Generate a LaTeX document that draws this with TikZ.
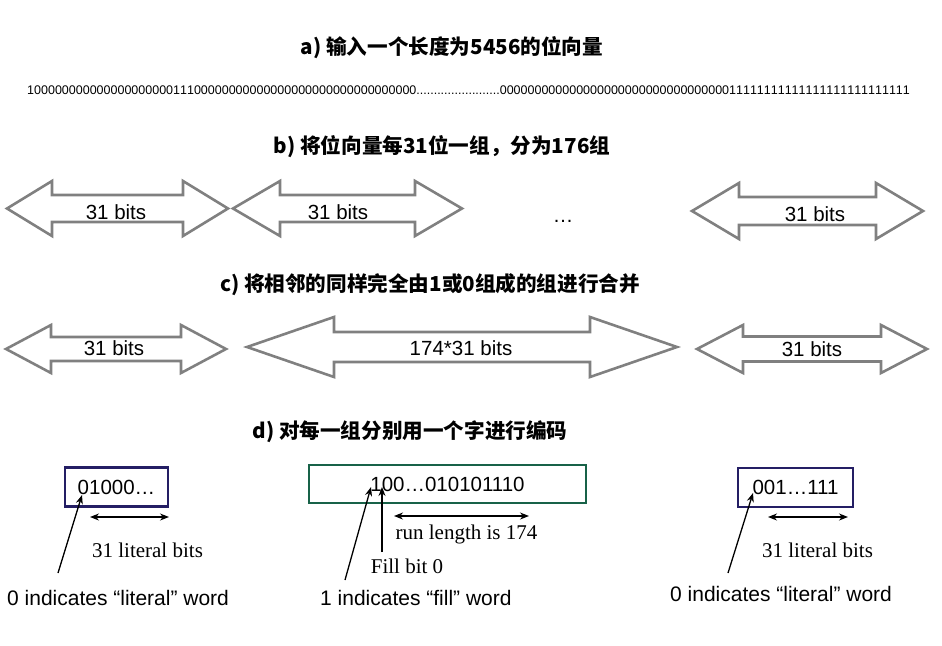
\documentclass[tikz,border=0pt]{standalone}
\usepackage{fontspec}
\setmainfont{Liberation Sans}
\newfontfamily\timesfont{Liberation Serif}
\newfontfamily\cjkfont{Noto Sans CJK SC}
\newfontfamily\vecfont[Kerning=Off]{Liberation Sans}
\usepackage{xcolor}
\usetikzlibrary{arrows.meta,positioning,calc}

\definecolor{wordnavy}{RGB}{36,30,100}
\definecolor{wordgreen}{RGB}{24,98,72}
\definecolor{shapegray}{RGB}{128,128,128}

% Hollow double arrow: left x, right x, mid y, shaft half, head half, head length.
\newcommand{\bitarrow}[6]{%
  \draw[bitshape] (#1,#3) -- (#1+#6,#3-#5) -- (#1+#6,#3-#4) -- (#2-#6,#3-#4)
    -- (#2-#6,#3-#5) -- (#2,#3) -- (#2-#6,#3+#5) -- (#2-#6,#3+#4)
    -- (#1+#6,#3+#4) -- (#1+#6,#3+#5) -- cycle;}

\begin{document}
\begin{tikzpicture}[
    x=1pt, y=-1pt,
    >={Stealth[length=9pt,width=7pt]},
    title/.style={font=\cjkfont\bfseries\fontsize{20.6}{24}\selectfont, inner sep=0pt},
    bitstr/.style={font=\vecfont\fontsize{12.5}{14}\selectfont, inner sep=0pt, anchor=west},
    bitshape/.style={draw=shapegray, line width=2.6pt, fill=white, line join=miter},
    span/.style={font=\fontsize{20.5}{24}\selectfont, inner sep=0pt},
    word/.style={
        line width=2.4pt,
        minimum height=39pt,
        inner sep=0pt,
        font=\fontsize{20.5}{24}\selectfont
    },
    note/.style={font=\timesfont\fontsize{21}{24}\selectfont, inner sep=0pt, anchor=base},
    tag/.style={font=\fontsize{21}{24}\selectfont, inner sep=0pt, anchor=base west},
    ptr/.style={->, line width=1.3pt},
    len/.style={<->, line width=1.3pt}
]

% Stable crop.
\path[use as bounding box] (0,0) rectangle (942,645);

% --------------------------------------------------
% a) the raw bit vector
% --------------------------------------------------
\node[title] (ttl_a) at (452,48) {a) 输入一个长度为5456的位向量};
\node[bitstr] (vec) at (27,90) {1%
0000000000%
0000000000%
111%
0000000000%
0000000000%
0000000000%
00%
........%
........%
........%
0000000000%
0000000000%
0000000000%
000%
1111111111%
1111111111%
111111};

% --------------------------------------------------
% b) split into groups of 31 bits
% --------------------------------------------------
\node[title] (ttl_b) at (442,147) {b) 将位向量每31位一组，分为176组};

\bitarrow{7}{228}{208.5}{13.5}{27.5}{45}
\bitarrow{233}{462}{208.5}{13.5}{27.5}{47}
\bitarrow{692}{923}{211}{14}{28}{47}

\node[span] (grp1) at (116,212.5) {31 bits};
\node[span] (grp2) at (338,212.5) {31 bits};
\node[span, anchor=base] (dots) at (563,222) {…};
\node[span] (grp3) at (815,214.5) {31 bits};

% --------------------------------------------------
% c) merge neighbouring all-0 / all-1 groups
% --------------------------------------------------
\node[title] (ttl_c) at (430,285) {c) 将相邻的同样完全由1或0组成的组进行合并};

\bitarrow{6}{226}{349}{12}{24}{45}
\bitarrow{247}{677}{347}{15}{30}{87}
\bitarrow{697}{927}{349}{12.5}{24}{46}

\node[span] (run1) at (114,348.5) {31 bits};
\node[span] (run2) at (461,348) {174*31 bits};
\node[span] (run3) at (812,349.5) {31 bits};

% --------------------------------------------------
% d) one word per group
% --------------------------------------------------
\node[title] (ttl_d) at (410,432) {d) 对每一组分别用一个字进行编码};

\node[word, draw=wordnavy, minimum width=103pt] (lit1) at (116.5,487) {01000…};
\node[word, draw=wordgreen, minimum width=277pt, minimum height=38pt] (fill) at (447.5,484) {100…010101110};
\node[word, draw=wordnavy, minimum width=115pt] (lit2) at (795.5,487.5) {001…111};

\node[note] (lit1bits) at (147.5,557) {31 literal bits};
\node[note] (runlen) at (466.5,539) {run length is 174};
\node[note] (fillbit) at (407,573) {Fill bit 0};
\node[note] (lit2bits) at (817.5,557) {31 literal bits};

\node[tag] (lit1tag) at (7,605) {0 indicates “literal” word};
\node[tag] (filltag) at (320,605) {1 indicates “fill” word};
\node[tag] (lit2tag) at (670,601) {0 indicates “literal” word};

% Pointer ends and length marks.
\coordinate (lit1from) at (58,573);
\coordinate (lit1to)   at (82,495);
\coordinate (fillfrom) at (345,580);
\coordinate (fillto)   at (371,487);
\coordinate (bitfrom)  at (382,552);
\coordinate (bitto)    at (382,487);
\coordinate (lit2from) at (728,573);
\coordinate (lit2to)   at (753,493);

\draw[ptr] (lit1from) -- (lit1to);
\draw[ptr] (fillfrom) -- (fillto);
\draw[ptr] (bitfrom) -- (bitto);
\draw[ptr] (lit2from) -- (lit2to);

\draw[len] (90,517) -- (169,517);
\draw[len] (394,516) -- (529,516);
\draw[len] (768,517) -- (848,517);

\end{tikzpicture}
\end{document}
